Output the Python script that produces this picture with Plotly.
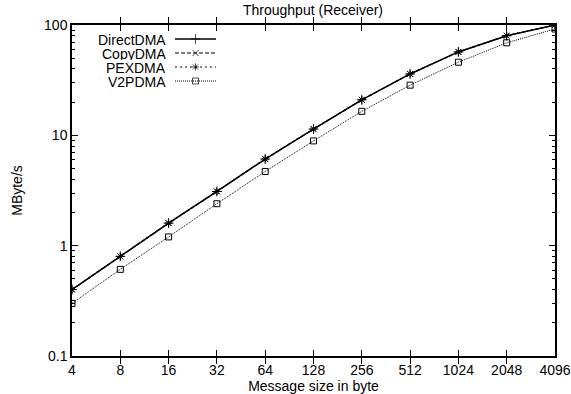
import plotly.graph_objects as go
import math

W, H = 571, 394

sizes = [4, 8, 16, 32, 64, 128, 256, 512, 1024, 2048, 4096]
size_labels = ["4", "8", "16", "32", "64", "128", "256", "512", "1024", "2048", "4096"]
direct_dma = [0.40, 0.80, 1.6, 3.1, 6.1, 11.4, 21, 36, 57, 80, 100]
copy_dma = [0.40, 0.80, 1.6, 3.1, 6.1, 11.4, 21, 36, 57, 80, 100]
pex_dma = [0.40, 0.80, 1.6, 3.1, 6.1, 11.4, 21, 36, 57, 80, 100]
v2p_dma = [0.30, 0.61, 1.2, 2.4, 4.7, 8.9, 16.5, 28.5, 46, 69, 92]
y_ticks = [0.1, 1, 10, 100]
y_tick_labels = ["0.1", "1", "10", "100"]
y_minor = [m * 10 ** e for e in range(-1, 2) for m in range(2, 10)]

series = [
    ("DirectDMA", direct_dma, "solid", "cross-thin", 1.5, 7),
    ("CopyDMA", copy_dma, "4px,2px", "x-thin", 1.2, 6),
    ("PEXDMA", pex_dma, "2px,3px", "asterisk-open", 1.2, 6),
    ("V2PDMA", v2p_dma, "1px,1px", "square-open", 1.0, 6),
]

# plot area in pixels
L, R, T, B = 72, 555, 25, 356

fig = go.Figure()
for name, vals, dash, sym, lw, ms in series:
    fig.add_trace(go.Scatter(
        x=sizes, y=vals, mode="lines+markers", name=name,
        line=dict(color="black", width=lw, dash=dash),
        marker=dict(symbol=sym, size=ms, color="black", line=dict(color="black", width=1)),
        showlegend=False, xaxis="x", yaxis="y"))

# minor y ticks (overlay axis)
fig.add_trace(go.Scatter(x=[sizes[0]], y=[y_ticks[0]], mode="markers", marker=dict(opacity=0),
                         showlegend=False, hoverinfo="skip", xaxis="x", yaxis="y3"))

# custom gnuplot-style legend on a pixel overlay axis
leg_text_x, leg_x0, leg_x1 = 167, 175, 216
leg_rows = [39, 53, 67, 81]
for (name, vals, dash, sym, lw, ms), ry in zip(series, leg_rows):
    fig.add_trace(go.Scatter(
        x=[leg_x0, (leg_x0 + leg_x1) / 2, leg_x1], y=[ry, ry, ry], mode="lines+markers",
        line=dict(color="black", width=lw, dash=dash),
        marker=dict(symbol=sym, size=[0, ms, 0], color="black", line=dict(color="black", width=1)),
        showlegend=False, hoverinfo="skip", xaxis="x2", yaxis="y2"))
    fig.add_annotation(x=leg_text_x, y=ry, xref="x2", yref="y2", text=name, showarrow=False,
                       xanchor="right", yanchor="middle", borderpad=0, height=13, valign="middle",
                       font=dict(size=14, color="black"))

font = dict(family="Liberation Sans, Arial, sans-serif", size=14, color="black")
fig.update_layout(
    width=W, height=H, margin=dict(l=0, r=0, t=0, b=0, autoexpand=False),
    paper_bgcolor="white", plot_bgcolor="rgba(0,0,0,0)", font=font, showlegend=False,
    xaxis=dict(type="log", domain=[L / W, R / W], range=[math.log10(4), math.log10(4096)],
               tickvals=sizes, ticktext=size_labels, ticks="inside", ticklen=6, tickcolor="black",
               showline=True, linecolor="black", linewidth=1.5, mirror="allticks",
               showgrid=False, zeroline=False, tickfont=dict(size=14), automargin=False,
               title=dict(text="Message size in byte", standoff=4, font=dict(size=14))),
    yaxis=dict(type="log", domain=[1 - B / H, 1 - T / H], range=[-1, 2],
               tickvals=y_ticks, ticktext=y_tick_labels, ticks="inside", ticklen=6, tickcolor="black",
               showline=True, linecolor="black", linewidth=1.5, mirror="allticks",
               showgrid=False, zeroline=False, tickfont=dict(size=14), automargin=False,
               title=dict(text="MByte/s", standoff=18, font=dict(size=14))),
    yaxis3=dict(type="log", overlaying="y", range=[-1, 2], tickvals=y_minor, ticks="inside",
                ticklen=3, tickcolor="black", showticklabels=False, showgrid=False,
                zeroline=False, showline=False, mirror="allticks", automargin=False),
    xaxis2=dict(domain=[0, 1], range=[0, W], visible=False, fixedrange=True, anchor="y2",
                automargin=False),
    yaxis2=dict(domain=[0, 1], range=[H, 0], visible=False, fixedrange=True, anchor="x2",
                automargin=False),
    title=dict(text="Throughput (Receiver)", x=313 / W, xanchor="center", y=1 - 10 / H,
               yanchor="middle", font=dict(size=14), automargin=False),
)
fig.write_html("out.html", config={"displayModeBar": False},
               post_script="document.body.style.margin='0';document.body.style.overflow='hidden';")
